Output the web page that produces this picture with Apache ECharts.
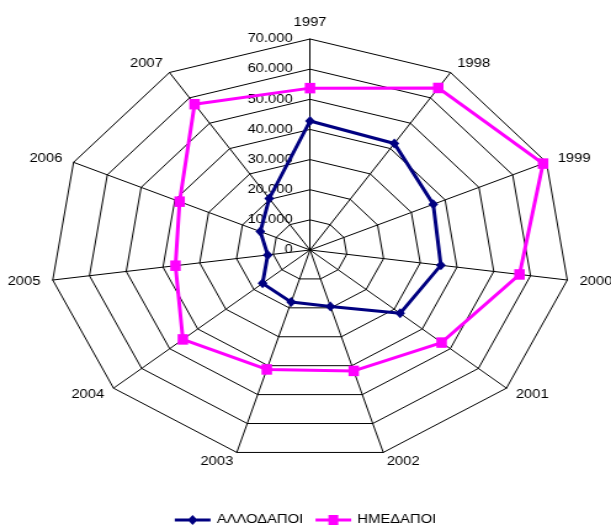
<!DOCTYPE html>
<html>
<head>
<meta charset="utf-8">
<script src="https://cdn.jsdelivr.net/npm/echarts@6/dist/echarts.min.js"></script>
<style>
html,body{margin:0;padding:0;background:#fff;overflow:hidden;}
#wrap{width:611px;height:531px;position:relative;overflow:hidden;}
#chart{width:496px;height:531px;position:absolute;left:0;top:0;transform-origin:0 0;transform:scaleX(1.2319);}
</style>
</head>
<body>
<div id="wrap"><div id="chart"></div></div>
<script>
// Data (chronological order)
const years = ['1997','1998','1999','2000','2001','2002','2003','2004','2005','2006','2007'];
const allodapoi = [42800, 42000, 36500, 35600, 32100, 19500, 18000, 16900, 11500, 14700, 20300];
const imedapoi  = [53700, 63900, 69000, 57000, 46900, 41800, 41300, 45300, 36600, 38600, 57500];
const seriesNames = ['ΑΛΛΟΔΑΠΟΙ', 'ΗΜΕΔΑΠΟΙ'];
const axisMax = 70000;
const axisSplits = 7;

// ECharts lays radar indicators counter-clockwise; reorder so years run clockwise from the top.
const order = [0].concat(years.map((_, i) => i).slice(1).reverse());
const indYears = order.map(i => years[i]);
const ordA = order.map(i => allodapoi[i]);
const ordH = order.map(i => imedapoi[i]);

function fmt(v){ return String(v).replace(/\B(?=(\d{3})+(?!\d))/g, '.'); }

const S = 1.2319;
const diamondIcon = 'path://M0,3.5 L11.7,3.5 L14.5,0 L17.3,3.5 L29,3.5 L29,6.5 L17.3,6.5 L14.5,10 L11.7,6.5 L0,6.5 Z';
const squareIcon = 'path://M0,3.5 L10.5,3.5 L10.5,0 L18.5,0 L18.5,3.5 L29,3.5 L29,6.5 L18.5,6.5 L18.5,10 L10.5,10 L10.5,6.5 L0,6.5 Z';

const chart = echarts.init(document.getElementById('chart'), null, {renderer:'canvas'});
chart.setOption({
  backgroundColor: '#ffffff',
  animation: false,
  textStyle: {fontFamily: 'Liberation Sans, Arial, sans-serif'},
  legend: {
    data: [
      {name: seriesNames[0], icon: diamondIcon},
      {name: seriesNames[1], icon: squareIcon}
    ],
    left: 'center',
    bottom: 0,
    itemWidth: 29,
    itemHeight: 10,
    itemGap: 10,
    textStyle: {fontSize: 12, color: '#000', fontFamily: 'Liberation Sans, Arial, sans-serif'}
  },
  radar: {
    center: [310 / S, 250],
    radius: 211,
    startAngle: 90,
    splitNumber: axisSplits,
    shape: 'polygon',
    axisNameGap: 10,
    axisName: {color: '#000', fontSize: 12, fontFamily: 'Liberation Sans, Arial, sans-serif'},
    axisLine: {show: true, lineStyle: {color: '#000', width: 1}},
    splitLine: {show: true, lineStyle: {color: '#000', width: 1}},
    splitArea: {show: false},
    axisTick: {show: false},
    axisLabel: {show: false},
    indicator: indYears.map((y, k) => {
      const o = {name: y, min: 0, max: axisMax};
      if (k === 0) {
        o.axisLabel = {show: true, color: '#000', fontSize: 12, margin: 14,
          fontFamily: 'Liberation Sans, Arial, sans-serif', formatter: fmt};
      }
      return o;
    })
  },
  series: [{
    type: 'radar',
    data: [
      {
        name: seriesNames[0],
        value: ordA,
        symbol: 'diamond',
        symbolSize: [8, 10],
        lineStyle: {color: '#000080', width: 3},
        itemStyle: {color: '#000080'}
      },
      {
        name: seriesNames[1],
        value: ordH,
        symbol: 'rect',
        symbolSize: [8.5, 10.5],
        lineStyle: {color: '#FF00FF', width: 3},
        itemStyle: {color: '#FF00FF'}
      }
    ]
  }]
});
</script>
</body>
</html>
